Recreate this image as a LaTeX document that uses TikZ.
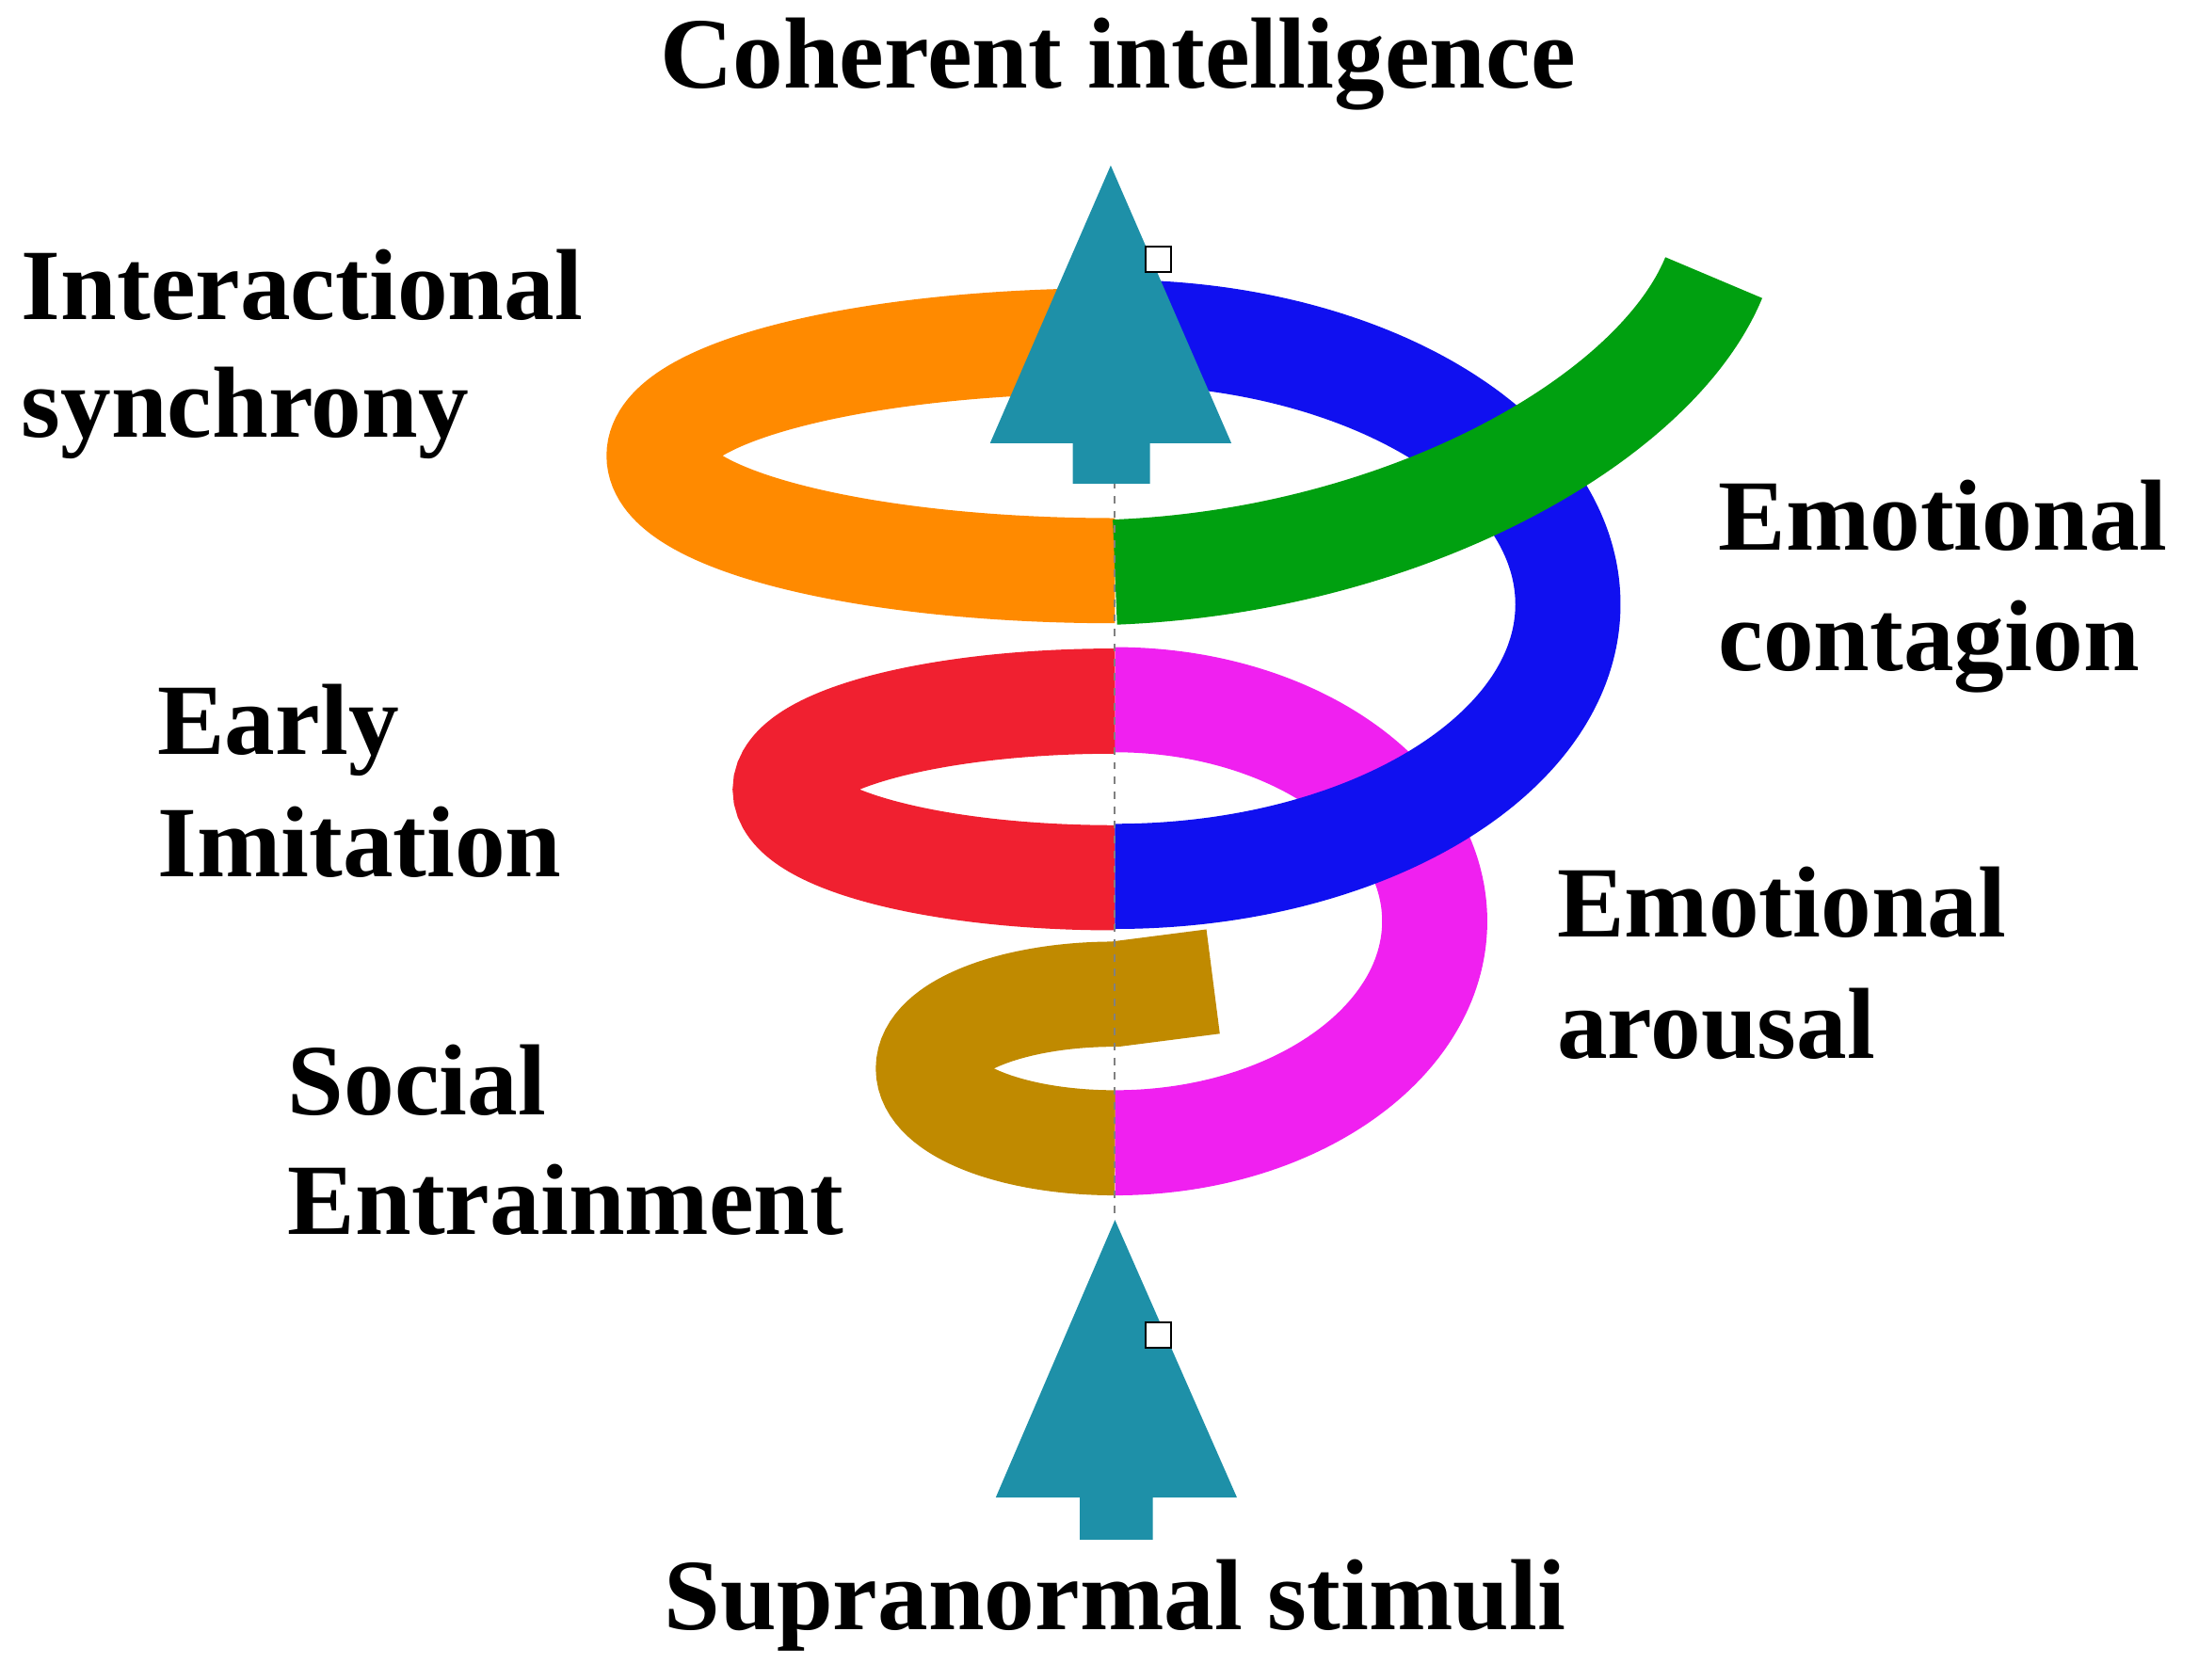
\documentclass[tikz,border=0pt]{standalone}
\usepackage{fontspec}
\setmainfont{Liberation Serif}
\definecolor{teal1}{HTML}{1E90A8}
\definecolor{orng}{HTML}{FF8A00}
\definecolor{blu}{HTML}{1010F0}
\definecolor{grn}{HTML}{00A010}
\definecolor{rd}{HTML}{F02030}
\definecolor{mag}{HTML}{F020F0}
\definecolor{brn}{HTML}{C08A00}
\begin{document}
\begin{tikzpicture}[x=0.02cm,y=-0.02cm,
  band/.style={line width=1.5cm,line cap=butt},
  lbl/.style={anchor=base west,inner sep=0,font=\fontsize{41}{50}\selectfont\bfseries},
  ttl/.style={anchor=base,inner sep=0,font=\fontsize{41}{50}\selectfont\bfseries},
  arr/.style={fill=teal1,draw=none},
  sq/.style={draw=black,fill=white,line width=0.6pt,minimum size=0.36cm,inner sep=0}]
\useasboundingbox (0,0) rectangle (1568,1198);
% spiral bands
\draw[band,mag] (795,499) arc[start angle=-90,end angle=90,x radius=228,y radius=158];
\draw[band,brn] (865,700) -- (795,709) arc[start angle=-90,end angle=-270,x radius=133,y radius=53];
\draw[band,rd] (795,500) arc[start angle=-90,end angle=-270,x radius=235,y radius=63];
\draw[band,blu] (795,237) arc[start angle=-90,end angle=90,x radius=323,y radius=194];
\draw[band,orng] (795,243) arc[start angle=-90,end angle=-270,x radius=325,y radius=82];
\draw[band,grn] (795,408) .. controls (1000,400) and (1180,300) .. (1222,198);
% axis
\draw[gray,dashed,line width=0.8pt] (795,185) -- (795,870);
% arrows
\fill[arr] (792,118) -- (878,316) -- (820,316) -- (820,345) -- (765,345) -- (765,316) -- (706,316) -- cycle;
\fill[arr] (795,870) -- (882,1068) -- (822,1068) -- (822,1098) -- (770,1098) -- (770,1068) -- (710,1068) -- cycle;
\node[sq] (s1) at (826,185) {};
\node[sq] (s2) at (826,952) {};
% labels
\node[ttl] (ci) at (797,63) {Coherent intelligence};
\node[ttl] (ss) at (795,1162) {Supranormal stimuli};
\node[lbl] (is1) at (15,228) {Interactional};
\node[lbl] (is2) at (15,312) {synchrony};
\node[lbl] (ec1) at (1225,392) {Emotional};
\node[lbl] (ec2) at (1225,478) {contagion};
\node[lbl] (ei1) at (112,538) {Early};
\node[lbl] (ei2) at (112,625) {Imitation};
\node[lbl] (ea1) at (1110,668) {Emotional};
\node[lbl] (ea2) at (1110,755) {arousal};
\node[lbl] (se1) at (205,795) {Social};
\node[lbl] (se2) at (205,880) {Entrainment};
\end{tikzpicture}
\end{document}
